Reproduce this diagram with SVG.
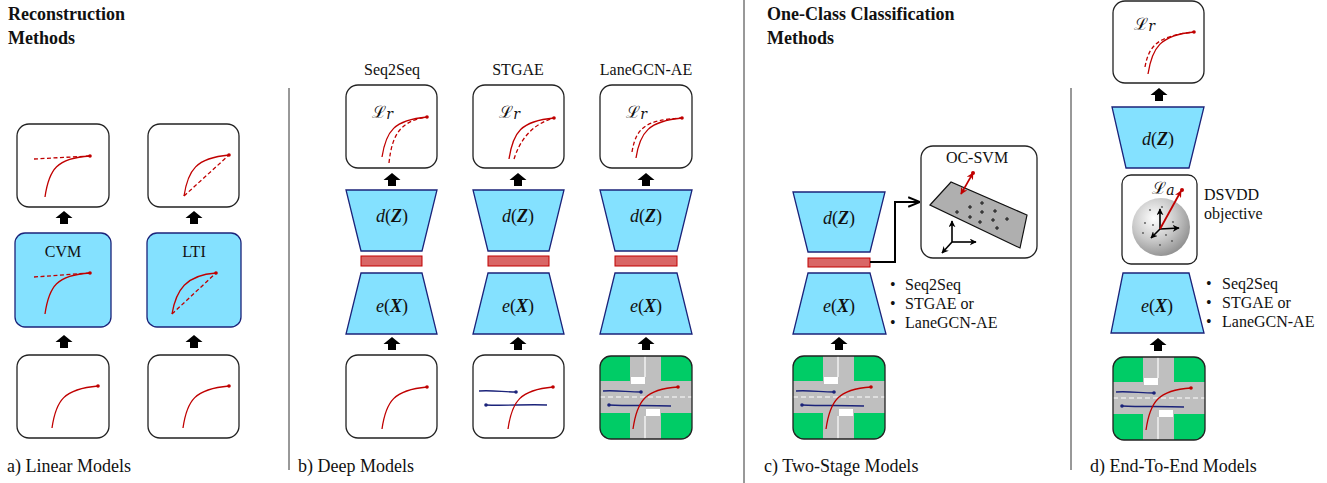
<svg xmlns="http://www.w3.org/2000/svg" width="1327" height="483" viewBox="0 0 1327 483">
<defs>
<style>
.t{font-family:"Liberation Serif","Times New Roman",serif;fill:#111}
.h{font-weight:bold;font-size:18px}
.lbl{font-size:18px}
.s{font-size:16px}
.mid{text-anchor:middle}
.box{fill:#fff;stroke:#222;stroke-width:1.3}
.blue{fill:#84E1FF;stroke:#1B237A;stroke-width:1.3}
.bar{fill:#D96666;stroke:#C00000;stroke-width:1}
.rc{fill:none;stroke:#C00000;stroke-width:1.3}
.rd{fill:none;stroke:#C00000;stroke-width:1.3;stroke-dasharray:4 2.5}
.bl{fill:none;stroke:#1B237A;stroke-width:1.3}
.rdot{fill:#C00000}
.bdot{fill:#1B237A}
.sep{stroke:#333;stroke-width:1}
.math{font-family:"Liberation Serif","Times New Roman",serif;font-size:18px;text-anchor:middle;fill:#111}
.scr{font-family:"DejaVu Serif","Noto Sans",serif;font-style:italic;font-size:17px;fill:#111}
.ax{stroke:#000;stroke-width:1.6;fill:none}
</style>
<path id="up" d="M0 0 L8.5 7 L4 7 L4 13 L-4 13 L-4 7 L-8.5 7 Z" fill="#000"/>
<marker id="ah" viewBox="0 0 10 10" refX="9" refY="5" markerWidth="7" markerHeight="7" orient="auto-start-reverse" markerUnits="userSpaceOnUse">
<path d="M0 0 L10 5 L0 10 L3 5 Z" fill="#000"/>
</marker>
<marker id="ahr" viewBox="0 0 10 10" refX="9" refY="5" markerWidth="7" markerHeight="7" orient="auto-start-reverse" markerUnits="userSpaceOnUse">
<path d="M0 0 L10 5 L0 10 L3 5 Z" fill="#C00000"/>
</marker>
<marker id="ahk" viewBox="0 0 10 10" refX="9" refY="5" markerWidth="12" markerHeight="12" orient="auto" markerUnits="userSpaceOnUse">
<path d="M0 1 L10 5 L0 9" fill="none" stroke="#000" stroke-width="1.6"/>
</marker>
<radialGradient id="sph" cx="0.38" cy="0.35" r="0.7">
<stop offset="0" stop-color="#ffffff"/>
<stop offset="0.55" stop-color="#c8c8c8"/>
<stop offset="1" stop-color="#8e8e8e"/>
</radialGradient>
<clipPath id="tileclip"><rect x="0" y="0" width="92" height="83" rx="11"/></clipPath>
<!-- intersection scene tile with agent trajectories -->
<g id="tile">
<g clip-path="url(#tileclip)">
<rect x="0" y="0" width="92" height="83" fill="#00CC66"/>
<rect x="30" y="0" width="31" height="83" fill="#BFBFBF"/>
<rect x="0" y="25" width="92" height="32" fill="#BFBFBF"/>
<line x1="0" y1="41" x2="92" y2="41" stroke="#fff" stroke-width="1.2" stroke-dasharray="5 3"/>
<line x1="45" y1="0" x2="45" y2="21" stroke="#fff" stroke-width="1.2"/>
<line x1="45" y1="60" x2="45" y2="83" stroke="#fff" stroke-width="1.2"/>
<rect x="31" y="21" width="14" height="7" fill="#fff"/>
<rect x="46" y="53" width="14" height="7" fill="#fff"/>
</g>
<path class="bl" d="M3 35 C15 34 28 36 41 36"/>
<circle class="bdot" cx="41" cy="36" r="1.8"/>
<path class="bl" d="M9 49 C30 50 50 49 71 50"/>
<circle class="bdot" cx="9" cy="49" r="1.8"/>
<path class="rc" d="M33 73 C37 45 45 33 78 31"/>
<circle class="rdot" cx="78" cy="31" r="1.8"/>
<rect x="0" y="0" width="92" height="83" rx="11" fill="none" stroke="#222" stroke-width="1.3"/>
</g>
</defs>

<rect width="1327" height="483" fill="#fff"/>

<!-- section dividers -->
<g id="dividers">
<line class="sep" x1="289" y1="88" x2="289" y2="470"/>
<line class="sep" x1="744" y1="0" x2="744" y2="483"/>
<line class="sep" x1="1071" y1="88" x2="1071" y2="470"/>
</g>

<!-- headings and captions -->
<g id="headings">
<text class="t h" x="8" y="20">Reconstruction</text>
<text class="t h" x="8" y="44">Methods</text>
<text class="t h" x="767" y="20">One-Class Classification</text>
<text class="t h" x="767" y="44">Methods</text>
<text class="t lbl" x="7" y="472">a) Linear Models</text>
<text class="t lbl" x="298" y="472">b) Deep Models</text>
<text class="t lbl" x="764" y="472">c) Two-Stage Models</text>
<text class="t lbl" x="1090" y="472">d) End-To-End Models</text>
</g>

<!-- a) linear models -->
<g id="cvm-out">
<rect class="box" x="17" y="124" width="92" height="83" rx="12"/>
<line class="rd" x1="34" y1="159" x2="90" y2="156"/>
<path class="rc" d="M45 197 C49 169 57 158 90 156"/>
<circle class="rdot" cx="90" cy="156" r="1.8"/>
</g>
<g id="cvm">
<rect class="blue" x="15" y="233" width="96" height="94" rx="10"/>
<text class="t s mid" x="63" y="257">CVM</text>
<line class="rd" x1="34" y1="277" x2="90" y2="273"/>
<path class="rc" d="M45 314 C49 286 57 275 90 273"/>
<circle class="rdot" cx="90" cy="273" r="1.8"/>
</g>
<g id="cvm-in">
<rect class="box" x="17" y="355" width="92" height="83" rx="12"/>
<path class="rc" d="M52 428 C56 400 64 389 98 386"/>
<circle class="rdot" cx="98" cy="386" r="1.8"/>
</g>
<g id="lti-out">
<rect class="box" x="148" y="124" width="91" height="83" rx="12"/>
<line class="rd" x1="184" y1="196" x2="229" y2="155"/>
<path class="rc" d="M184 196 C188 170 196 158 229 155"/>
<circle class="rdot" cx="229" cy="155" r="1.8"/>
</g>
<g id="lti">
<rect class="blue" x="147" y="233" width="94" height="94" rx="10"/>
<text class="t s mid" x="194" y="257">LTI</text>
<line class="rd" x1="172" y1="314" x2="216" y2="273"/>
<path class="rc" d="M172 314 C176 290 186 275 216 273"/>
<circle class="rdot" cx="216" cy="273" r="1.8"/>
</g>
<g id="lti-in">
<rect class="box" x="148" y="355" width="91" height="83" rx="12"/>
<path class="rc" d="M183 428 C187 400 195 389 229 386"/>
<circle class="rdot" cx="229" cy="386" r="1.8"/>
</g>

<!-- b) deep models: Seq2Seq -->
<g id="seq2seq">
<text class="t s mid" x="392" y="75">Seq2Seq</text>
<rect class="box" x="346" y="85" width="91" height="83" rx="12"/>
<text class="scr" x="372" y="118">ℒ<tspan font-size="14" dy="1">r</tspan></text>
<path class="rd" d="M389 163 C392 135 400 121 427 117"/>
<path class="rc" d="M382 157 C386 131 394 120 427 117"/>
<circle class="rdot" cx="427" cy="117" r="1.8"/>
<polygon class="blue" points="346,190 437,190 422,251 361,251"/>
<text class="math" x="392" y="222"><tspan font-style="italic">d</tspan>(<tspan font-style="italic" font-weight="bold">Z</tspan>)</text>
<rect class="bar" x="361" y="256" width="61" height="10"/>
<polygon class="blue" points="361,273 422,273 437,334 346,334"/>
<text class="math" x="392" y="312"><tspan font-style="italic">e</tspan>(<tspan font-style="italic" font-weight="bold">X</tspan>)</text>
<rect class="box" x="346" y="355" width="91" height="83" rx="12"/>
<path class="rc" d="M382 429 C386 401 394 390 427 387"/>
<circle class="rdot" cx="427" cy="387" r="1.8"/>
</g>

<!-- b) deep models: STGAE -->
<g id="stgae">
<text class="t s mid" x="518" y="75">STGAE</text>
<rect class="box" x="473" y="85" width="91" height="83" rx="12"/>
<text class="scr" x="499" y="118">ℒ<tspan font-size="14" dy="1">r</tspan></text>
<path class="rd" d="M514 159 C520 140 532 124 554 118"/>
<path class="rc" d="M509 159 C513 132 521 121 554 118"/>
<circle class="rdot" cx="554" cy="118" r="1.8"/>
<polygon class="blue" points="473,190 564,190 549,251 488,251"/>
<text class="math" x="518" y="222"><tspan font-style="italic">d</tspan>(<tspan font-style="italic" font-weight="bold">Z</tspan>)</text>
<rect class="bar" x="488" y="256" width="61" height="10"/>
<polygon class="blue" points="488,273 549,273 564,334 473,334"/>
<text class="math" x="518" y="312"><tspan font-style="italic">e</tspan>(<tspan font-style="italic" font-weight="bold">X</tspan>)</text>
<rect class="box" x="473" y="355" width="91" height="83" rx="12"/>
<path class="bl" d="M479 391 C492 390 504 392 516 392"/>
<circle class="bdot" cx="516" cy="392" r="1.8"/>
<path class="bl" d="M486 405 C506 406 527 404 547 405"/>
<circle class="bdot" cx="486" cy="405" r="1.8"/>
<path class="rc" d="M508 429 C512 401 520 390 553 387"/>
<circle class="rdot" cx="553" cy="387" r="1.8"/>
</g>

<!-- b) deep models: LaneGCN-AE -->
<g id="lanegcn-ae">
<text class="t s mid" x="646" y="75">LaneGCN-AE</text>
<rect class="box" x="600" y="85" width="92" height="83" rx="12"/>
<text class="scr" x="626" y="118">ℒ<tspan font-size="14" dy="1">r</tspan></text>
<path class="rd" d="M632 152 C636 128 645 120 682 118"/>
<path class="rc" d="M636 158 C640 132 649 121 682 118"/>
<circle class="rdot" cx="682" cy="118" r="1.8"/>
<polygon class="blue" points="600,190 692,190 677,251 615,251"/>
<text class="math" x="646" y="222"><tspan font-style="italic">d</tspan>(<tspan font-style="italic" font-weight="bold">Z</tspan>)</text>
<rect class="bar" x="615" y="256" width="62" height="10"/>
<polygon class="blue" points="615,273 677,273 692,334 600,334"/>
<text class="math" x="646" y="312"><tspan font-style="italic">e</tspan>(<tspan font-style="italic" font-weight="bold">X</tspan>)</text>
<use href="#tile" x="600" y="356"/>
</g>

<!-- c) two-stage models -->
<g id="two-stage-ae">
<polygon class="blue" points="793,192 885,192 870,252 808,252"/>
<text class="math" x="839" y="224"><tspan font-style="italic">d</tspan>(<tspan font-style="italic" font-weight="bold">Z</tspan>)</text>
<rect class="bar" x="808" y="258" width="62" height="9"/>
<polygon class="blue" points="808,273 870,273 886,334 793,334"/>
<text class="math" x="839" y="312"><tspan font-style="italic">e</tspan>(<tspan font-style="italic" font-weight="bold">X</tspan>)</text>
<use href="#tile" x="793" y="356"/>
</g>
<g id="two-stage-list">
<text class="t s" x="890" y="290">•</text>
<text class="t s" x="905" y="290">Seq2Seq</text>
<text class="t s" x="890" y="309">•</text>
<text class="t s" x="905" y="309">STGAE or</text>
<text class="t s" x="890" y="328">•</text>
<text class="t s" x="905" y="328">LaneGCN-AE</text>
</g>
<g id="ocsvm">
<rect class="box" x="921" y="146" width="116" height="112" rx="12"/>
<text class="t s mid" x="977" y="163">OC-SVM</text>
<polygon points="930,205 951,182 1027,215 1020,248" fill="#AFAFAF" stroke="#111" stroke-width="1.2"/>
<g stroke="#111" stroke-width="1">
<path d="M955 212h4M957 210v4 M968 207h4M970 205v4 M980 203h4M982 201v4 M993 211h4M995 209v4 M1005 219h4M1007 217v4 M968 217h4M970 215v4 M980 212h4M982 210v4 M978 222h4M980 220v4 M991 220h4M993 218v4 M995 228h4M997 226v4"/>
</g>
<line x1="973" y1="173" x2="961" y2="194" stroke="#C00000" stroke-width="1.6" marker-start="url(#ahr)" marker-end="url(#ahr)"/>
<circle class="rdot" cx="973" cy="173" r="2"/>
<line class="ax" x1="952" y1="242" x2="952" y2="221" marker-end="url(#ah)"/>
<line class="ax" x1="952" y1="242" x2="976" y2="242" marker-end="url(#ah)"/>
<line class="ax" x1="952" y1="242" x2="942" y2="253" marker-end="url(#ah)"/>
</g>

<!-- d) end-to-end models -->
<g id="e2e-out">
<rect class="box" x="1113" y="1" width="91" height="82" rx="12"/>
<text class="scr" x="1134" y="30">ℒ<tspan font-size="14" dy="1">r</tspan></text>
<path class="rd" d="M1145 67 C1149 45 1158 36 1194 32"/>
<path class="rc" d="M1148 74 C1152 48 1160 35 1194 32"/>
<circle class="rdot" cx="1194" cy="32" r="1.8"/>
</g>
<g id="e2e-decoder">
<polygon class="blue" points="1112,107 1204,107 1189,168 1126,168"/>
<text class="math" x="1158" y="145"><tspan font-style="italic">d</tspan>(<tspan font-style="italic" font-weight="bold">Z</tspan>)</text>
</g>
<g id="dsvdd">
<rect class="box" x="1122" y="175" width="75" height="89" rx="9"/>
<text class="scr" x="1152" y="194">ℒ<tspan font-size="14" dy="1">a</tspan></text>
<circle cx="1161" cy="227" r="29" fill="url(#sph)"/>
<g fill="#555">
<circle cx="1150" cy="210" r="0.9"/><circle cx="1162" cy="207" r="0.9"/><circle cx="1145" cy="223" r="0.9"/>
<circle cx="1153" cy="225" r="0.9"/><circle cx="1173" cy="222" r="0.9"/><circle cx="1143" cy="233" r="0.9"/>
<circle cx="1166" cy="235" r="0.9"/><circle cx="1172" cy="241" r="0.9"/><circle cx="1160" cy="245" r="0.9"/>
</g>
<line class="ax" x1="1160" y1="229" x2="1160" y2="209" marker-end="url(#ah)"/>
<line class="ax" x1="1160" y1="229" x2="1179" y2="228" marker-end="url(#ah)"/>
<line class="ax" x1="1160" y1="229" x2="1151" y2="238" marker-end="url(#ah)"/>
<line x1="1160" y1="229" x2="1181" y2="191" stroke="#C00000" stroke-width="1.8" marker-end="url(#ahr)"/>
<circle class="rdot" cx="1182" cy="190" r="2"/>
<text class="t s" x="1204" y="200">DSVDD</text>
<text class="t s" x="1204" y="219">objective</text>
</g>
<g id="e2e-encoder">
<polygon class="blue" points="1123,273 1189,273 1204,333 1111,333"/>
<text class="math" x="1157" y="312"><tspan font-style="italic">e</tspan>(<tspan font-style="italic" font-weight="bold">X</tspan>)</text>
<use href="#tile" x="1113" y="357"/>
</g>
<g id="e2e-list">
<text class="t s" x="1206" y="289">•</text>
<text class="t s" x="1222" y="289">Seq2Seq</text>
<text class="t s" x="1206" y="308">•</text>
<text class="t s" x="1222" y="308">STGAE or</text>
<text class="t s" x="1206" y="327">•</text>
<text class="t s" x="1222" y="327">LaneGCN-AE</text>
</g>

<!-- connectors -->
<g id="connectors">
<use href="#up" x="64" y="211"/>
<use href="#up" x="64" y="335"/>
<use href="#up" x="194" y="211"/>
<use href="#up" x="194" y="335"/>
<use href="#up" x="392" y="173"/>
<use href="#up" x="392" y="337"/>
<use href="#up" x="518" y="173"/>
<use href="#up" x="518" y="337"/>
<use href="#up" x="646" y="173"/>
<use href="#up" x="646" y="337"/>
<use href="#up" x="839" y="337"/>
<use href="#up" x="1159" y="88"/>
<use href="#up" x="1158" y="338"/>
<polyline points="870,262 895,262 895,202 919,202" fill="none" stroke="#000" stroke-width="2" marker-end="url(#ahk)"/>
</g>
</svg>
